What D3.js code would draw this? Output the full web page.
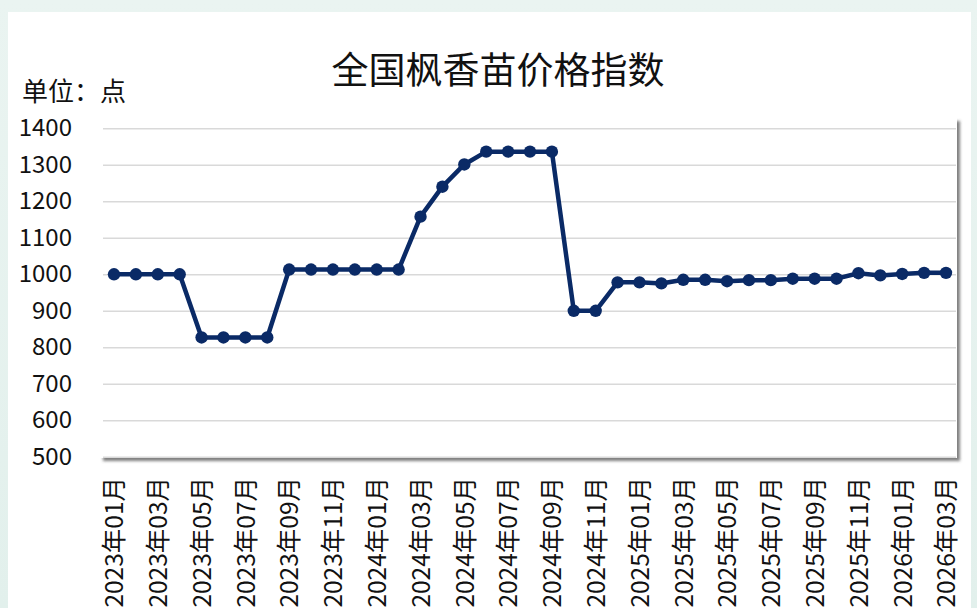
<!DOCTYPE html>
<html>
<head>
<meta charset="utf-8">
<script src="https://cdn.jsdelivr.net/npm/d3@7"></script>
<style>
  html, body { margin: 0; padding: 0; }
  body { width: 977px; height: 608px; overflow: hidden; background: #e5f2ee; }
  .chart text { font-family: "Noto Sans CJK SC", "Noto Sans", sans-serif; fill: #111; }
</style>
</head>
<body>
<div class="chart"></div>
<script>
var w = 977,
	h = 608,
	svg;

// monthly index, 2023-01 .. 2026-03
const months = [
	"2023年01月", "2023年02月", "2023年03月", "2023年04月", "2023年05月", "2023年06月",
	"2023年07月", "2023年08月", "2023年09月", "2023年10月", "2023年11月", "2023年12月",
	"2024年01月", "2024年02月", "2024年03月", "2024年04月", "2024年05月", "2024年06月",
	"2024年07月", "2024年08月", "2024年09月", "2024年10月", "2024年11月", "2024年12月",
	"2025年01月", "2025年02月", "2025年03月", "2025年04月", "2025年05月", "2025年06月",
	"2025年07月", "2025年08月", "2025年09月", "2025年10月", "2025年11月", "2025年12月",
	"2026年01月", "2026年02月", "2026年03月"
];
const values = [
	1000, 1000, 1000, 1000, 827, 827, 827, 827, 1013, 1013, 1013, 1013,
	1013, 1013, 1158, 1240, 1301, 1336, 1336, 1336, 1336, 900, 900, 978,
	978, 975, 985, 985, 981, 984, 984, 988, 988, 988, 1003, 997,
	1001, 1004, 1004
];
const yTicks = [500, 600, 700, 800, 900, 1000, 1100, 1200, 1300, 1400];
const xTickLabels = months.filter((d, i) => i % 2 === 0);

const title = "全国枫香苗价格指数";
const unitLabel = "单位：点";

svg = d3.select(".chart").append("svg").attr("width", w).attr("height", h);

const defs = svg.append("defs");
const bg = defs.append("linearGradient").attr("id", "bg").attr("x1", 0).attr("y1", 0).attr("x2", 0).attr("y2", 1);
bg.append("stop").attr("offset", "0").attr("stop-color", "#eaf4f1");
bg.append("stop").attr("offset", "1").attr("stop-color", "#e2f0ec");
defs.append("filter").attr("id", "shadow").attr("x", "-5%").attr("y", "-5%").attr("width", "110%").attr("height", "115%")
	.append("feDropShadow").attr("dx", 3).attr("dy", 3).attr("stdDeviation", 1.6)
	.attr("flood-color", "#555").attr("flood-opacity", 0.75);

svg.append("rect").attr("width", w).attr("height", h).attr("fill", "url(#bg)");
// white panel
svg.append("rect").attr("x", 8).attr("y", 12).attr("width", 963).attr("height", h - 12).attr("fill", "#fff");

// plot area
svg.append("rect").attr("x", 100).attr("y", 118).attr("width", 857).attr("height", 340)
	.attr("fill", "#fff").attr("filter", "url(#shadow)");

const xScale = d3.scalePoint().domain(months).range([114, 946]);
const yScale = d3.scaleLinear().domain([500, 1400]).range([456.8, 128.3]);

// gridlines
const grid = svg.append("g")
	.attr("transform", "translate(103,0)")
	.call(d3.axisLeft(yScale).tickValues(yTicks).tickSize(-853).tickFormat(""));
grid.select(".domain").remove();
grid.selectAll("line").attr("stroke", "#d9d9d9").attr("stroke-width", 1.6);

// y axis labels
const yAxis = svg.append("g")
	.attr("transform", "translate(75,0)")
	.call(d3.axisLeft(yScale).tickValues(yTicks).tickSize(0).tickPadding(3).tickFormat(d3.format("d")));
yAxis.select(".domain").remove();
yAxis.selectAll("text").attr("font-size", 24).attr("fill", "#111");

// x axis labels
const xAxis = svg.append("g")
	.attr("transform", "translate(0,477)")
	.call(d3.axisBottom(xScale).tickValues(xTickLabels).tickSize(0));
xAxis.select(".domain").remove();
xAxis.selectAll("text")
	.attr("font-size", 24.5)
	.attr("fill", "#111")
	.attr("transform", "rotate(-90)")
	.attr("x", 0)
	.attr("y", 0)
	.attr("dy", "0.36em")
	.style("text-anchor", "end");

// line + markers
const line = d3.line().x((d, i) => xScale(months[i])).y((d) => yScale(d));
svg.append("path")
	.datum(values)
	.attr("d", line)
	.attr("fill", "none")
	.attr("stroke", "#0a2a66")
	.attr("stroke-width", 4.5)
	.attr("stroke-linejoin", "round");

svg.selectAll("circle.dot")
	.data(values)
	.enter()
	.append("circle")
	.attr("class", "dot")
	.attr("cx", (d, i) => xScale(months[i]))
	.attr("cy", (d) => yScale(d))
	.attr("r", 6.2)
	.attr("fill", "#0a2a66");

svg.append("text")
	.attr("x", 498)
	.attr("y", 84)
	.attr("text-anchor", "middle")
	.attr("font-size", 37)
	.text(title);

svg.append("text")
	.attr("x", 22)
	.attr("y", 101)
	.attr("font-size", 26)
	.text(unitLabel);
</script>
</body>
</html>
